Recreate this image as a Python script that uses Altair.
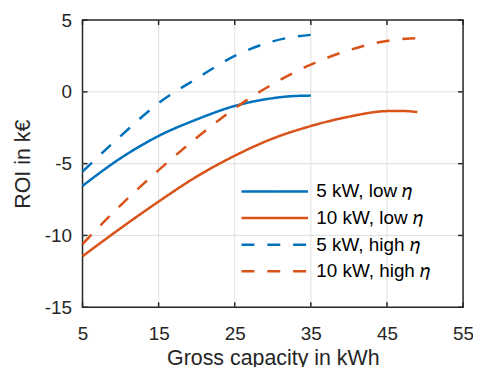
import altair as alt
import pandas as pd

# ---- data ----
series_names = ["5 kW, low 𝜂", "10 kW, low 𝜂", "5 kW, high 𝜂", "10 kW, high 𝜂"]
series_colors = ["#0072BD", "#D95319", "#0072BD", "#D95319"]
series_dashes = [[1, 0], [1, 0], [13, 13], [13, 13]]

cap_5kw_low = [5, 10, 15, 20, 25, 30, 32.5, 35]
roi_5kw_low = [-6.55, -4.62, -3.07, -1.92, -0.98, -0.44, -0.3, -0.26]

cap_10kw_low = [5, 10, 15, 20, 25, 30, 35, 40, 45, 47, 49]
roi_10kw_low = [-11.45, -9.5, -7.64, -5.9, -4.45, -3.25, -2.38, -1.73, -1.34, -1.33, -1.41]

cap_5kw_high = [5, 10, 15, 20, 25, 30, 35, 35.8]
roi_5kw_high = [-5.55, -3.08, -0.78, 0.93, 2.5, 3.52, 3.97, 4.0]

cap_10kw_high = [5, 10, 15, 20, 25, 30, 35, 40, 45, 47.5, 50.2]
roi_10kw_high = [-10.6, -7.9, -5.45, -3.2, -1.15, 0.55, 1.9, 2.9, 3.55, 3.7, 3.75]

x_ticks = [5, 15, 25, 35, 45, 55]
y_ticks = [-15, -10, -5, 0, 5]

rows = []
for name, xs, ys in [
    (series_names[0], cap_5kw_low, roi_5kw_low),
    (series_names[1], cap_10kw_low, roi_10kw_low),
    (series_names[2], cap_5kw_high, roi_5kw_high),
    (series_names[3], cap_10kw_high, roi_10kw_high),
]:
    for xv, yv in zip(xs, ys):
        rows.append({"series": name, "cap": xv, "roi": yv})
df = pd.DataFrame(rows)
xt = pd.DataFrame({"cap": x_ticks})
yt = pd.DataFrame({"roi": y_ticks})

W, H = 383, 289
FONT = "Liberation Sans"
INK = "#262626"
GRID = "#dfdfdf"
TICK = 5

xscale = alt.Scale(domain=[5, 55], nice=False, zero=False)
yscale = alt.Scale(domain=[-15, 5], nice=False, zero=False)

xaxis = alt.Axis(values=x_ticks, grid=False, ticks=False, tickSize=0, domain=False,
                 labelPadding=17, labelFlush=False, labelExpr="'' + datum.value",
                 title="Gross capacity in kWh", titlePadding=5)
yaxis = alt.Axis(values=y_ticks, grid=False, ticks=False, tickSize=0, domain=False,
                 labelPadding=11, labelFlush=False, labelExpr="'' + datum.value",
                 title="ROI in k€", titlePadding=10)


def X():
    return alt.X("cap:Q", scale=xscale, axis=xaxis)


def Y():
    return alt.Y("roi:Q", scale=yscale, axis=yaxis)


legend = alt.Legend(orient="none", legendX=181, legendY=160, title=None,
                    symbolType="M-3,0H3", symbolSize=498.8,
                    symbolStrokeWidth=2.5, labelOffset=29.3,
                    rowPadding=3.8, padding=0, labelLimit=300)

grid_x = alt.Chart(xt).mark_rule(color=GRID, strokeWidth=1).encode(
    x=X()
).transform_filter("datum.cap > 5 && datum.cap < 55")
grid_y = alt.Chart(yt).mark_rule(color=GRID, strokeWidth=1).encode(
    y=Y()
).transform_filter("datum.roi > -15 && datum.roi < 5")

main = alt.Chart(df).mark_line(strokeWidth=2.5, interpolate="monotone").encode(
    x=X(),
    y=Y(),
    color=alt.Color("series:N",
                    scale=alt.Scale(domain=series_names, range=series_colors),
                    sort=series_names, legend=legend),
    strokeDash=alt.StrokeDash("series:N",
                              scale=alt.Scale(domain=series_names, range=series_dashes),
                              sort=series_names, legend=legend),
)

tick_style = dict(color=INK, strokeWidth=1.5)
ticks_bottom = alt.Chart(xt).mark_rule(**tick_style).encode(
    x=X(), y=alt.value(H), y2=alt.value(H - TICK))
ticks_top = alt.Chart(xt).mark_rule(**tick_style).encode(
    x=X(), y=alt.value(0), y2=alt.value(TICK))
ticks_left = alt.Chart(yt).mark_rule(**tick_style).encode(
    y=Y(), x=alt.value(0), x2=alt.value(TICK))
ticks_right = alt.Chart(yt).mark_rule(**tick_style).encode(
    y=Y(), x=alt.value(W - TICK), x2=alt.value(W))

chart = alt.layer(
    grid_x, grid_y, main, ticks_bottom, ticks_top, ticks_left, ticks_right
).properties(
    width=W, height=H,
    autosize=alt.AutoSizeParams(type="none"),
    padding={"left": 75, "top": 11, "right": 10, "bottom": 59},
).configure_view(
    stroke=INK, strokeWidth=1.5
).configure_axis(
    labelFont=FONT, labelFontSize=19, labelColor=INK,
    titleFont=FONT, titleFontSize=21.5, titleColor=INK, titleFontWeight="normal",
).configure_legend(
    labelFont=FONT, labelFontSize=19, labelColor="#000000",
)

chart.save("out.html", embed_options={"renderer": "svg", "actions": False})
